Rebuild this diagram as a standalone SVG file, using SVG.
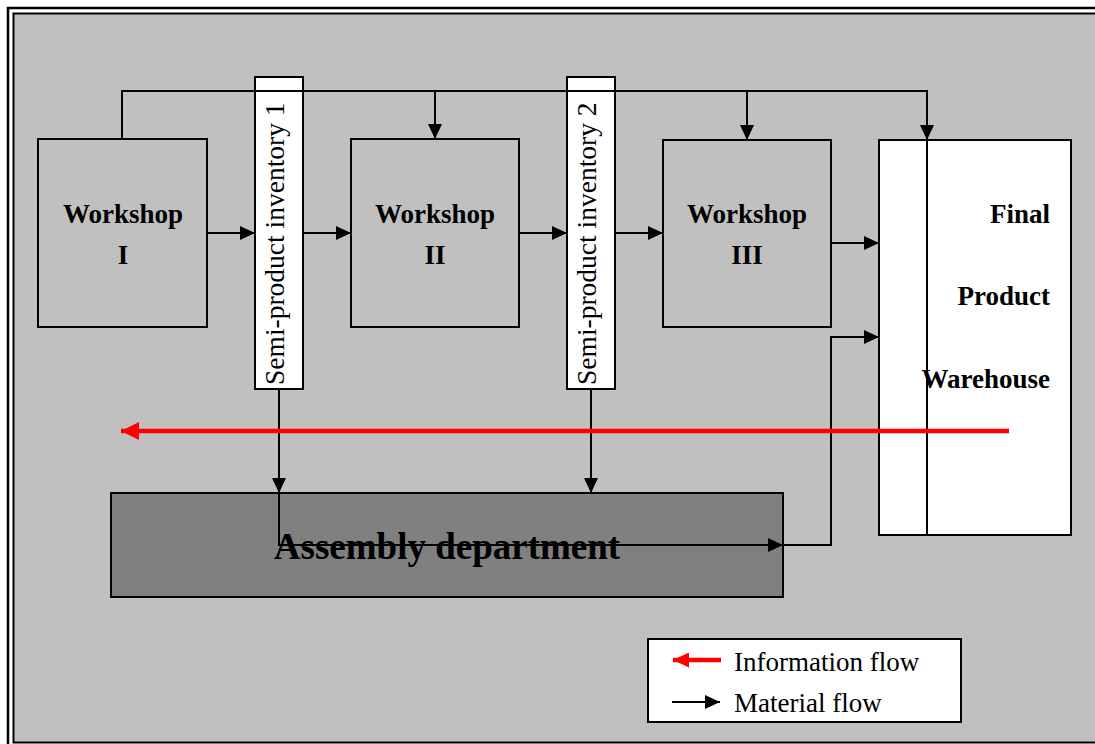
<svg xmlns="http://www.w3.org/2000/svg" width="1095" height="744" viewBox="0 0 1095 744">
  <style>
    .box { stroke: #000; stroke-width: 2; }
    .shop { fill: #c0c0c0; }
    .store { fill: #fff; }
    .lbl { font-family: "Liberation Serif", "Times New Roman", serif; font-weight: bold; font-size: 27px; fill: #000; }
    .inv { font-family: "Liberation Serif", "Times New Roman", serif; font-size: 27.5px; fill: #000; }
    .leg { font-family: "Liberation Serif", "Times New Roman", serif; font-size: 27px; fill: #000; }
    .flow { fill: none; stroke: #000; stroke-width: 2; }
    .info { fill: none; stroke: #ff0000; stroke-width: 4.5; }
  </style>
  <defs>
    <marker id="arrow" markerUnits="userSpaceOnUse" markerWidth="16" markerHeight="14" refX="15" refY="7" orient="auto">
      <path d="M0,0 L15,7 L0,14 z" fill="#000"/>
    </marker>
    <marker id="redArrow" markerUnits="userSpaceOnUse" markerWidth="19" markerHeight="18" refX="18" refY="9" orient="auto">
      <path d="M0,0 L18,9 L0,18 z" fill="#ff0000"/>
    </marker>
    <marker id="redArrowSmall" markerUnits="userSpaceOnUse" markerWidth="17" markerHeight="15" refX="16" refY="7.5" orient="auto">
      <path d="M0,0 L16,7.5 L0,15 z" fill="#ff0000"/>
    </marker>
  </defs>

  <!-- page frame: double border around grey panel, running off the right edge -->
  <rect x="0" y="0" width="1095" height="744" fill="#fff"/>
  <rect x="8" y="8" width="1300" height="900" fill="#fff" stroke="#000" stroke-width="2.5"/>
  <rect x="13.5" y="13.5" width="1300" height="729" fill="#c0c0c0" stroke="#000" stroke-width="2"/>

  <!-- nodes -->
  <g id="workshop-1">
    <rect class="box shop" x="38" y="139" width="169" height="188"/>
    <text class="lbl" x="123" y="223" text-anchor="middle">Workshop</text>
    <text class="lbl" x="123" y="264" text-anchor="middle">I</text>
  </g>
  <g id="inventory-1">
    <rect class="box store" x="255" y="77" width="48" height="312"/>
    <text class="inv" transform="translate(284,385) rotate(-90)">Semi-product inventory 1</text>
  </g>
  <g id="workshop-2">
    <rect class="box shop" x="351" y="139" width="168" height="188"/>
    <text class="lbl" x="435" y="223" text-anchor="middle">Workshop</text>
    <text class="lbl" x="435" y="264" text-anchor="middle">II</text>
  </g>
  <g id="inventory-2">
    <rect class="box store" x="567" y="77" width="48" height="312"/>
    <text class="inv" transform="translate(596,385) rotate(-90)">Semi-product inventory 2</text>
  </g>
  <g id="workshop-3">
    <rect class="box shop" x="663" y="140" width="168" height="187"/>
    <text class="lbl" x="747" y="223" text-anchor="middle">Workshop</text>
    <text class="lbl" x="747" y="264" text-anchor="middle">III</text>
  </g>
  <g id="warehouse">
    <rect class="box store" x="879" y="140" width="192" height="395"/>
    <line x1="927" y1="140" x2="927" y2="535" stroke="#000" stroke-width="2"/>
    <text class="lbl" x="1050" y="223" text-anchor="end">Final</text>
    <text class="lbl" x="1050" y="305" text-anchor="end">Product</text>
    <text class="lbl" x="1050" y="388" text-anchor="end">Warehouse</text>
  </g>
  <g id="assembly">
    <rect class="box" fill="#808080" x="111" y="493" width="672" height="104"/>
    <text class="lbl" x="447" y="559" text-anchor="middle" style="font-size:37px">Assembly department</text>
  </g>

  <!-- connectors -->
  <g id="connectors">
    <path class="flow" d="M122,139 V91 H927 V140" marker-end="url(#arrow)"/>
    <path class="flow" d="M435,91 V139" marker-end="url(#arrow)"/>
    <path class="flow" d="M747,91 V140" marker-end="url(#arrow)"/>
    <path class="flow" d="M207,233 H255" marker-end="url(#arrow)"/>
    <path class="flow" d="M303,233 H351" marker-end="url(#arrow)"/>
    <path class="flow" d="M519,233 H567" marker-end="url(#arrow)"/>
    <path class="flow" d="M615,233 H663" marker-end="url(#arrow)"/>
    <path class="flow" d="M831,243 H879" marker-end="url(#arrow)"/>
    <path class="flow" d="M279,389 V493" marker-end="url(#arrow)"/>
    <path class="flow" d="M591,389 V493" marker-end="url(#arrow)"/>
    <path class="flow" d="M279,493 V545 H783" marker-end="url(#arrow)"/>
    <path class="flow" d="M783,545 H831 V337 H879" marker-end="url(#arrow)"/>
    <path class="info" d="M1009,431 H121" marker-end="url(#redArrow)"/>
  </g>

  <!-- legend -->
  <g id="legend">
    <rect class="box store" x="648" y="639" width="313" height="83"/>
    <path class="info" d="M721,660 H673" marker-end="url(#redArrowSmall)"/>
    <path class="flow" d="M672,702 H720" marker-end="url(#arrow)"/>
    <text class="leg" x="734" y="671">Information flow</text>
    <text class="leg" x="734" y="712">Material flow</text>
  </g>
</svg>
